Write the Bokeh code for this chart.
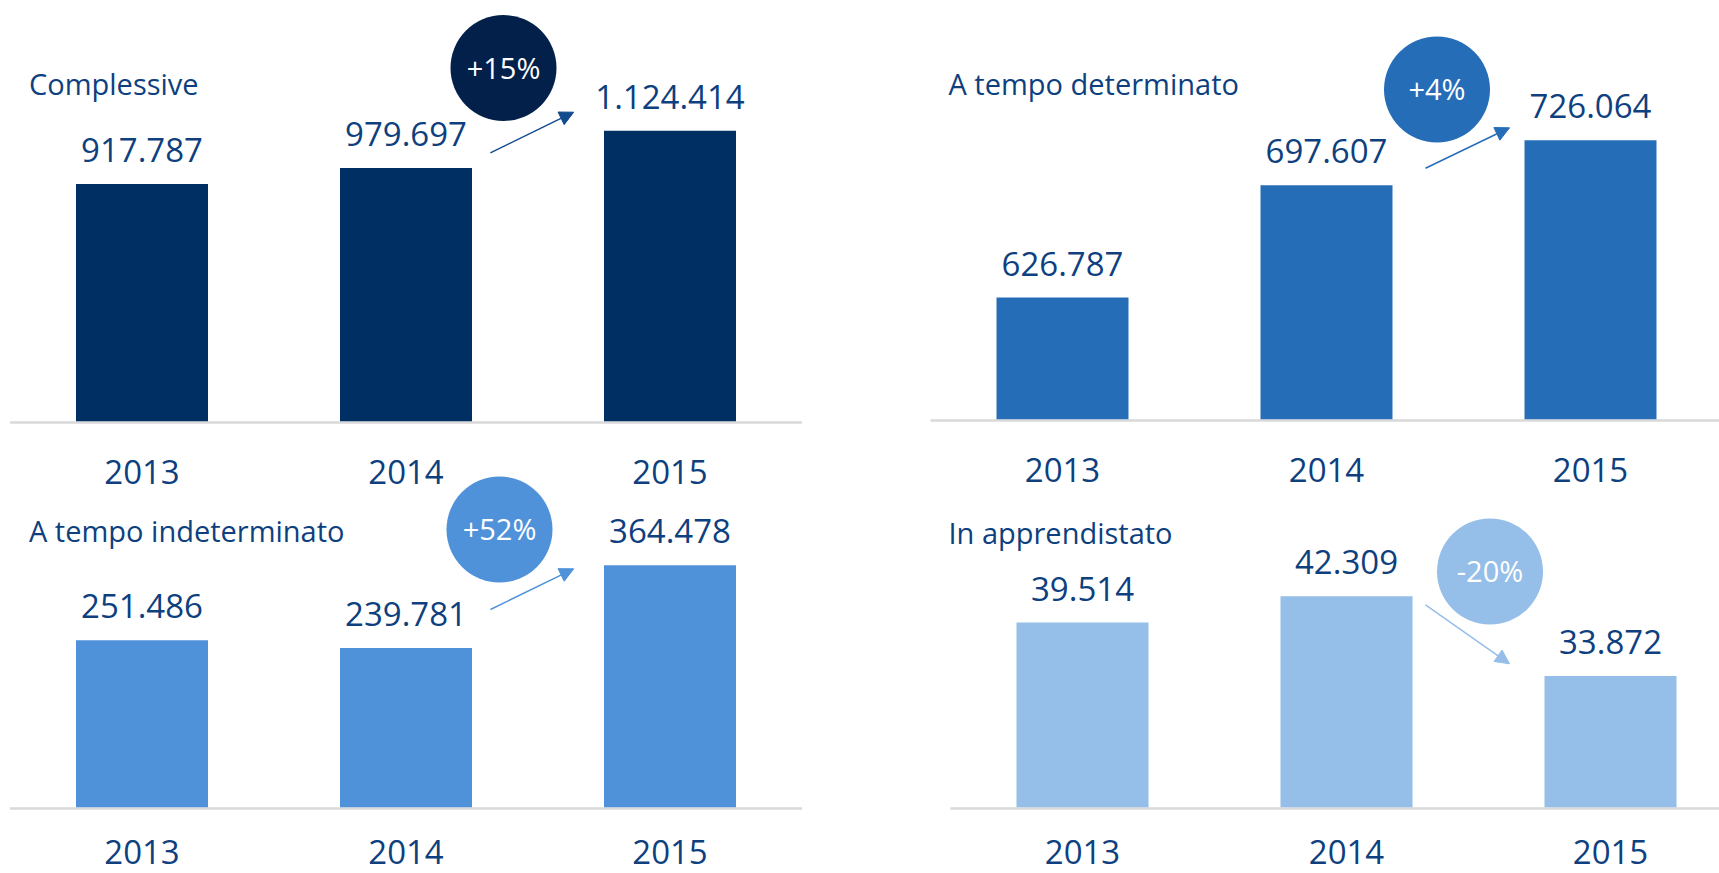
from bokeh.plotting import figure
from bokeh.models import Range1d, Label, Arrow, NormalHead
from bokeh.layouts import row
from bokeh.core.properties import value
from bokeh.embed import file_html
from bokeh.resources import INLINE

# ---------------- data ----------------
years = ["2013", "2014", "2015"]
complessive = [917787, 979697, 1124414]
determinato = [626787, 697607, 726064]
indeterminato = [251486, 239781, 364478]
apprendistato = [39514, 42309, 33872]
titles = ["Complessive", "A tempo determinato", "A tempo indeterminato", "In apprendistato"]
pct_labels = ["+15%", "+4%", "+52%", "-20%"]

# ---------------- style ----------------
FONT = "Open Sans"
TEXT_C = "#0e3f7e"
AXIS_C = "#d9d9d9"
SPACING = 264.0      # px per category
BAR_W = 0.5
TFIX = -12           # correction: rendered baseline sits lower than anchor
PAGE_H = 873


def fmt(v):
    return f"{v:,}".replace(",", ".")


def make_column_figure(W):
    p = figure(width=W, height=PAGE_H, output_backend="svg", toolbar_location=None,
               x_axis_location=None, y_axis_location=None, min_border=0,
               outline_line_color=None)
    p.grid.visible = False
    p.background_fill_color = "white"
    p.border_fill_color = "white"
    return p


def add_panel(p, W, rname, vals, title, pct, c0, base_px, y_base, upp, right_edge_line,
              bar_c, circ_c, arrow_c, title_xy, circ_xy, pct_dy, arrow_xy, label_off):
    def px2x(px):
        return (px - c0) / SPACING

    def px2y(py):
        return y_base + (base_px - py) * upp

    xr = Range1d(px2x(0), px2x(W))
    yr = Range1d(px2y(PAGE_H), px2y(0))
    if rname == "default":
        p.x_range = xr
        p.y_range = yr
    else:
        p.extra_x_ranges[rname] = xr
        p.extra_y_ranges[rname] = yr
    rk = dict(x_range_name=rname, y_range_name=rname)

    n = len(vals)
    xs = list(range(n))
    line_end = px2x(W) if right_edge_line else n - 0.5
    y_line = px2y(base_px + 1.2)
    p.segment(x0=[-0.5], y0=[y_line], x1=[line_end], y1=[y_line],
              line_color=AXIS_C, line_width=2.5, **rk)

    p.vbar(x=xs, width=BAR_W, bottom=y_base, top=vals, fill_color=bar_c, line_color=None, **rk)

    p.text(x=xs, y=vals, text=[fmt(v) for v in vals], y_offset=-22 + TFIX,
           text_align="center", text_baseline="alphabetic",
           text_font=value(FONT), text_font_size="33px", text_color=TEXT_C, **rk)

    p.text(x=xs, y=[y_base] * n, text=years, y_offset=label_off + TFIX,
           text_align="center", text_baseline="alphabetic",
           text_font=value(FONT), text_font_size="33px", text_color=TEXT_C, **rk)

    p.add_layout(Label(x=px2x(title_xy[0]), y=px2y(title_xy[1] + TFIX), text=title,
                       text_font=FONT, text_font_size="29px", text_color=TEXT_C,
                       text_align="left", text_baseline="alphabetic", **rk))

    cx, cy = px2x(circ_xy[0]), px2y(circ_xy[1])
    p.scatter(x=[cx], y=[cy], size=106, marker="circle", fill_color=circ_c,
              line_color=None, **rk)
    p.text(x=[cx], y=[cy], text=[pct], y_offset=pct_dy + TFIX,
           text_align="center", text_baseline="alphabetic",
           text_font=value(FONT), text_font_size="29px", text_color="white", **rk)

    (ax0, ay0), (ax1, ay1) = arrow_xy
    p.add_layout(Arrow(end=NormalHead(size=14, fill_color=arrow_c, line_color=arrow_c),
                       x_start=px2x(ax0), y_start=px2y(ay0),
                       x_end=px2x(ax1), y_end=px2y(ay1),
                       line_color=arrow_c, line_width=1.5, **rk))


WL, WR = 860, 859
left = make_column_figure(WL)
right = make_column_figure(WR)

add_panel(left, WL, "default", complessive, titles[0], pct_labels[0], 141.5, 420.7, 0, 3870, False,
          "#003063", "#03204a", "#134a8e", (28.5, 95), (503, 67.5), 11.5,
          ((489.9, 152.3), (573.2, 111.7)), 62.3)
add_panel(right, WR, "default", determinato, titles[1], pct_labels[1], 202, 418.7, 550000, 631, True,
          "#266db7", "#266db7", "#266db7", (88, 95), (576.5, 89), 11,
          ((565, 167.7), (649, 127.3)), 63)
add_panel(left, WL, "bottom", indeterminato, titles[2], pct_labels[2], 141.5, 806.7, 0, 1506, False,
          "#4f92da", "#4f92da", "#4f92da", (28.5, 542.3), (499, 529), 11,
          ((490, 609), (573.2, 568.3)), 56.3)
add_panel(right, WR, "bottom", apprendistato, titles[3], pct_labels[3], 222, 806.7, 20000, 105.7, True,
          "#95bee8", "#95bee8", "#95bee8", (88, 544), (629.5, 571), 10.7,
          ((565, 604.3), (649, 663.3)), 56.3)

layout = row(left, right)

open("out.html", "w").write(file_html(layout, INLINE))
